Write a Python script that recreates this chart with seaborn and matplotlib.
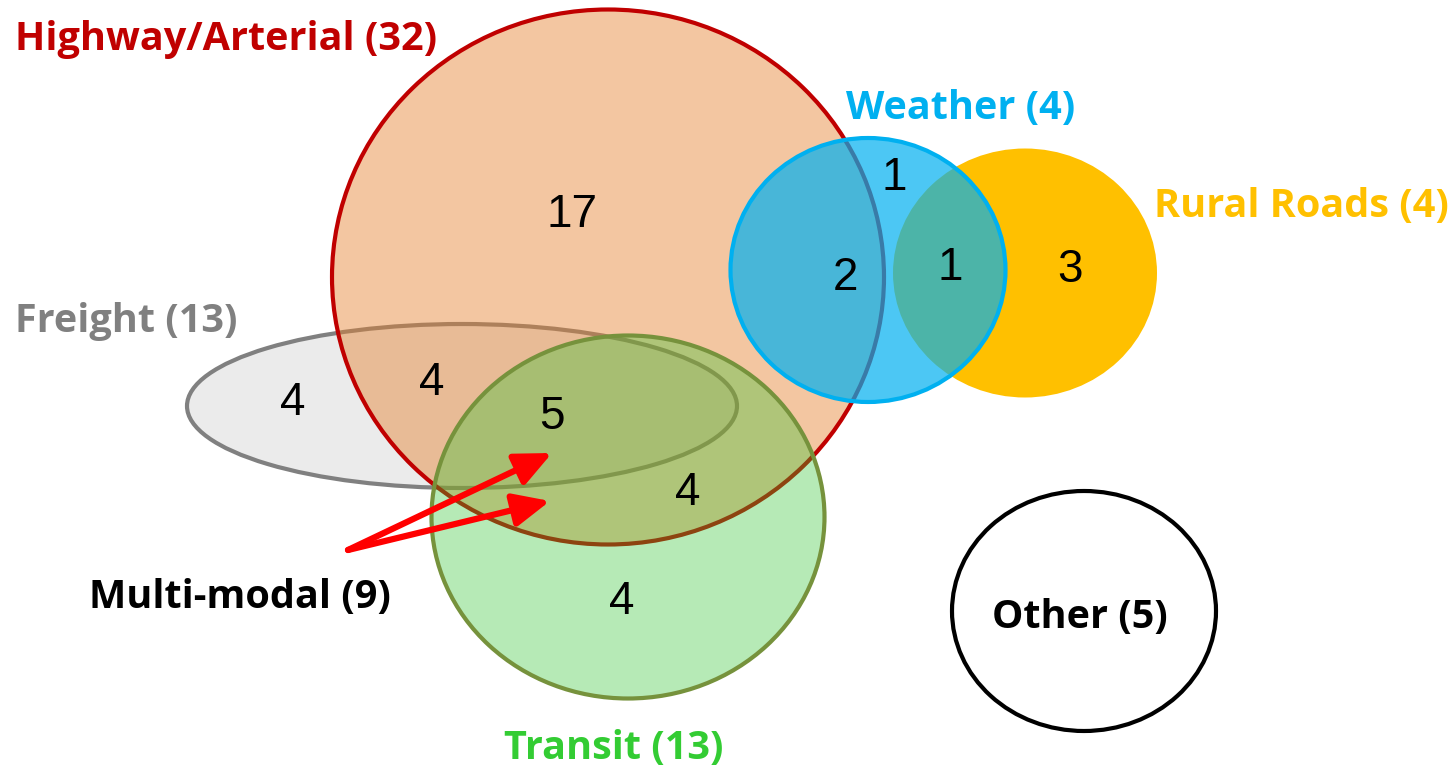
import seaborn as sns
import matplotlib.pyplot as plt
from matplotlib.patches import Ellipse

sns.set_theme(style="white")
plt.rcParams['font.family'] = ['Open Sans', 'DejaVu Sans']

# set names and totals
set_names = ["Highway/Arterial", "Weather", "Rural Roads", "Freight", "Transit", "Other"]
set_totals = [32, 4, 4, 13, 13, 5]
multimodal_name = "Multi-modal"
multimodal_total = 9

# counts inside the regions
region_counts = [17, 1, 2, 1, 3, 4, 4, 5, 4, 4]

# layout (pixel coords, y down)
shapes = {
    "Highway/Arterial": dict(xy=(608, 277), w=552, h=535, fc=(0.898, 0.506, 0.184, 0.45), ec="#C00000", z=2),
    "Freight": dict(xy=(462, 406), w=550, h=164, fc="#EBEBEB", ec="#808080", z=1),
    "Transit": dict(xy=(628, 517), w=393, h=363, fc=(0.19, 0.77, 0.19, 0.35), ec="#76923C", z=3),
    "Rural Roads": dict(xy=(1025, 273), w=264, h=249, fc="#FFC000", ec="none", z=4),
    "Weather": dict(xy=(868, 270), w=275, h=264, fc=(0.0, 0.69, 0.94, 0.7), ec="#00B0F0", z=5),
    "Other": dict(xy=(1084, 611), w=264, h=240, fc="white", ec="black", z=1),
}
label_pos = {
    "Highway/Arterial": (15, 50, "left", "#C00000"),
    "Weather": (961, 119, "center", "#00B0F0"),
    "Rural Roads": (1301, 217, "center", "#FFC000"),
    "Freight": (15, 332, "left", "#808080"),
    "Transit": (614, 759, "center", "#33CC33"),
    "Other": (1080, 628, "center", "black"),
}
count_pos = [(572, 215), (894, 178), (845, 278), (950, 268), (1070, 270),
             (293, 403), (432, 383), (552, 417), (688, 493), (622, 602)]

fig = plt.figure(figsize=(14.56, 7.67), dpi=100)
ax = fig.add_axes([0, 0, 1, 1])
ax.set_xlim(0, 1456)
ax.set_ylim(767, 0)
ax.axis("off")

for name, s in shapes.items():
    ax.add_patch(Ellipse(s["xy"], s["w"], s["h"], facecolor=s["fc"], edgecolor=s["ec"],
                         linewidth=3, zorder=s["z"]))

for name, total in zip(set_names, set_totals):
    x, y, ha, col = label_pos[name]
    ax.text(x, y, f"{name} ({total})", ha=ha, va="baseline", color=col,
            fontsize=28.5, fontweight="bold", zorder=10)

for n, (x, y) in zip(region_counts, count_pos):
    ax.text(x, y, str(n), ha="center", va="center", fontsize=33,
            family="Liberation Sans", color="black", zorder=10)

# multi-modal label with arrows
ax.text(240, 608, f"{multimodal_name} ({multimodal_total})", ha="center", va="baseline",
        color="black", fontsize=28.5, fontweight="bold", zorder=10)
for head in [(552, 453), (550, 501)]:
    ax.annotate("", xy=head, xytext=(348, 550),
                arrowprops=dict(arrowstyle="-|>,head_length=1.1,head_width=0.5",
                                color="red", lw=4.5, mutation_scale=20,
                                shrinkA=0, shrinkB=0), zorder=9)

fig.savefig("out.png", dpi=100)
